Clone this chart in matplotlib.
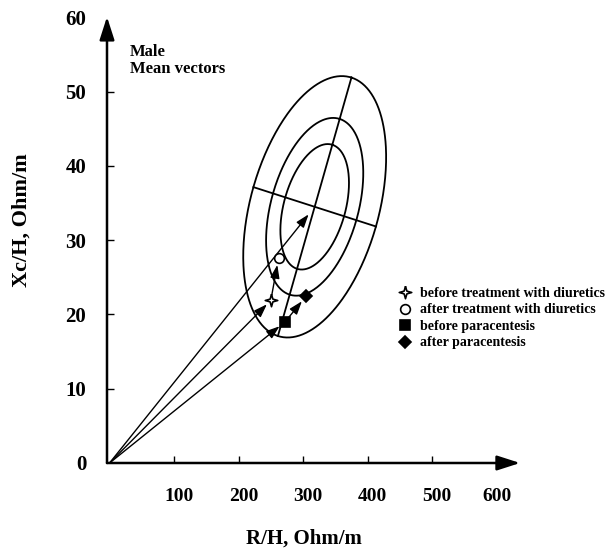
import matplotlib
matplotlib.use("Agg")
import matplotlib.pyplot as plt
import numpy as np
from matplotlib.path import Path
from matplotlib.lines import Line2D
from matplotlib.transforms import ScaledTranslation

plt.rcParams['font.family'] = ['Liberation Serif', 'DejaVu Serif']
plt.rcParams['font.weight'] = 'bold'

# tick values
x_ticks = [100, 200, 300, 400, 500, 600]
y_ticks = [0, 10, 20, 30, 40, 50, 60]

# male mean vector and tolerance ellipses (50%, 75%, 95%)
mean_center = (318, 34.5)
major_half = (57, 17.4)
minor_half = (95, -2.65)
ellipse_scales = [0.48, 0.68, 1.0]

# group mean points
group_labels = ["before treatment with diuretics",
                "after treatment with diuretics",
                "before paracentesis",
                "after paracentesis"]
group_r = [250, 262, 272, 305]
group_xc = [21.9, 27.6, 19.0, 22.5]

# four-point open star
star = Path([(0, 1), (0.22, 0.22), (1, 0), (0.22, -0.22), (0, -1),
             (-0.22, -0.22), (-1, 0), (-0.22, 0.22), (0, 1)])
marker_style = [
    dict(marker=star, mfc="white", ms=9),
    dict(marker="o", mfc="white", ms=7),
    dict(marker="s", mfc="black", ms=7),
    dict(marker="D", mfc="black", ms=6.5),
]

fig = plt.figure(figsize=(6.13, 5.52), dpi=100)
ax = fig.add_axes([107 / 613, 89 / 552, 416 / 613, 453 / 552])
ax.set_xlim(-4, 641)
ax.set_ylim(0, 61)
for s in ax.spines.values():
    s.set_visible(False)

# axis arrows
axis_arrow = dict(arrowstyle="-|>,head_length=1.4,head_width=0.45", lw=1.8,
                  color="black", shrinkA=0, shrinkB=0, mutation_scale=10)
ax.annotate("", xy=(0.993, 0), xytext=(0, 0), xycoords="axes fraction",
            arrowprops=axis_arrow, annotation_clip=False)
ax.annotate("", xy=(0, 0.985), xytext=(0, 0), xycoords="axes fraction",
            arrowprops=axis_arrow, annotation_clip=False)

# ellipses
t = np.linspace(0, 2 * np.pi, 400)
cx, cy = mean_center
for sc in ellipse_scales:
    ex = cx + sc * (major_half[0] * np.cos(t) + minor_half[0] * np.sin(t))
    ey = cy + sc * (major_half[1] * np.cos(t) + minor_half[1] * np.sin(t))
    ax.plot(ex, ey, color="black", lw=1.3)
ax.plot([cx - major_half[0], cx + major_half[0]],
        [cy - major_half[1], cy + major_half[1]], color="black", lw=1.3)
ax.plot([cx - minor_half[0], cx + minor_half[0]],
        [cy - minor_half[1], cy + minor_half[1]], color="black", lw=1.3)

# vectors
pts = {"origin": (0, 0), "center": mean_center}
for i, lab in enumerate(group_labels):
    pts[lab] = (group_r[i], group_xc[i])
vectors = [("origin", "center", 7),
           ("origin", group_labels[0], 4),
           (group_labels[0], group_labels[1], 5),
           ("origin", group_labels[2], 5),
           (group_labels[2], group_labels[3], 5)]
for a, b, shr in vectors:
    ax.annotate("", xy=pts[b], xytext=pts[a],
                arrowprops=dict(arrowstyle="-|>,head_length=0.8,head_width=0.28",
                                lw=1.0, color="black", shrinkA=0 if a == "origin" else 4,
                                shrinkB=shr, mutation_scale=10))

handles = []
for i, lab in enumerate(group_labels):
    ax.plot(group_r[i], group_xc[i], ls="none", mec="black", mew=1.2,
            zorder=5, **marker_style[i])
    handles.append(Line2D([], [], ls="none", mec="black", mew=1.2,
                          label=lab, **marker_style[i]))

ax.legend(handles=handles, loc="upper left",
          bbox_to_anchor=(391 / 613, 1 - 280 / 552), bbox_transform=fig.transFigure,
          frameon=False, borderpad=0, handlelength=1.0, handletextpad=0.6,
          labelspacing=0.25, prop=dict(size=10, weight="bold"))

# ticks
ax.set_xticks(x_ticks)
ax.set_xticklabels([str(v) for v in x_ticks])
ax.set_yticks(y_ticks)
ax.set_yticklabels([str(v) for v in y_ticks])
ax.tick_params(axis="x", direction="in", length=5, width=1, pad=18, labelsize=14)
ax.tick_params(axis="y", direction="in", length=5, width=1, pad=15, labelsize=15)
ax.xaxis.get_major_ticks()[-1].tick1line.set_visible(False)
ax.yaxis.get_major_ticks()[0].tick1line.set_visible(False)
ax.yaxis.get_major_ticks()[-1].tick1line.set_visible(False)
# printed labels sit a little right of their ticks
shift = ScaledTranslation(5 / 100, 0, fig.dpi_scale_trans)
for lbl in ax.get_xticklabels()[:-1]:
    lbl.set_transform(lbl.get_transform() + shift)

fig.text(130 / 613, 1 - 44 / 552, "Male\nMean vectors", ha="left", va="top",
         fontsize=12, linespacing=1.1)
fig.text(304 / 613, 1 - 539 / 552, "R/H, Ohm/m", ha="center", va="center",
         fontsize=15)
fig.text(22 / 613, 1 - 220 / 552, "Xc/H, Ohm/m", ha="center", va="center",
         rotation=90, fontsize=16)

fig.savefig("out.png", dpi=100)
